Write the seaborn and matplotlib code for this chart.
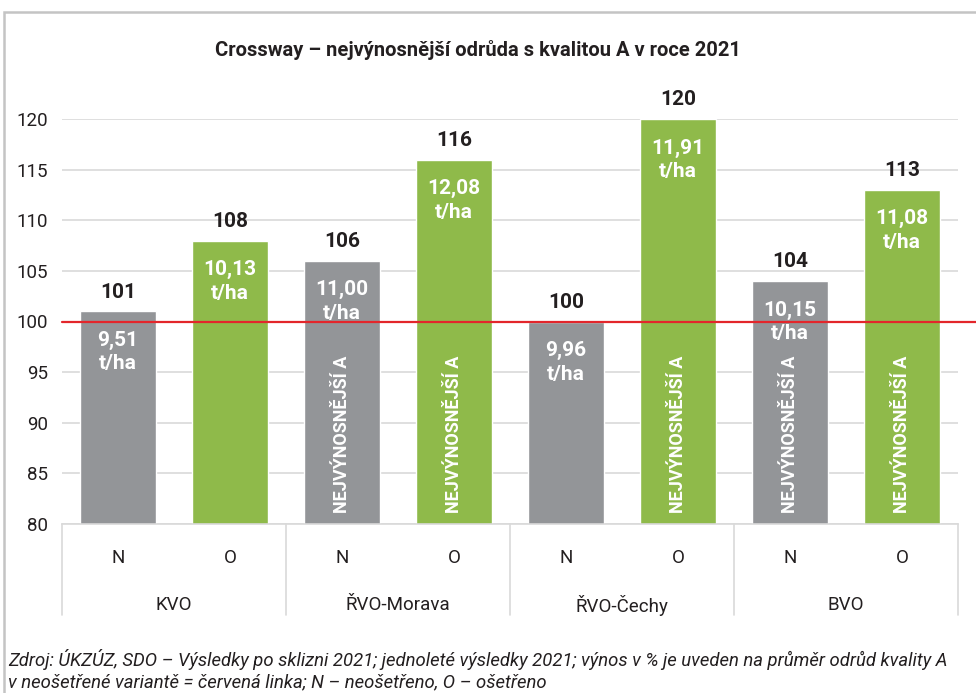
import matplotlib
matplotlib.use("Agg")
import matplotlib.pyplot as plt
import matplotlib.transforms as mtransforms
from matplotlib.patches import Rectangle
import seaborn as sns
import pandas as pd

# data
groups = ["KVO", "ŘVO-Morava", "ŘVO-Čechy", "BVO"]
variants = ["N", "O"]
rel_n = [101, 106, 100, 104]
rel_o = [108, 116, 120, 113]
yield_n = ["9,51", "11,00", "9,96", "10,15"]
yield_o = ["10,13", "12,08", "11,91", "11,08"]
best_n = [False, True, False, True]
best_o = [False, True, True, True]

GRAY = "#939598"
GREEN = "#8fba4a"
RED = "#e3262b"
INK = "#231f20"
FONT = ["Roboto", "DejaVu Sans"]

sns.set_theme(style="white")
plt.rcParams["font.family"] = FONT

rows = []
for i, g in enumerate(groups):
    rows.append(dict(slot=f"{g} N", group=g, variant="N", rel=rel_n[i], t=yield_n[i], best=best_n[i]))
    rows.append(dict(slot=f"{g} O", group=g, variant="O", rel=rel_o[i], t=yield_o[i], best=best_o[i]))
df = pd.DataFrame(rows)

fig = plt.figure(figsize=(9.76, 6.93), dpi=100)
ax = fig.add_axes([62 / 976, 1 - 524 / 693, 896 / 976, 405 / 693])

sns.barplot(data=df, x="slot", y="rel", hue="variant", dodge=False, width=0.67,
            palette={"N": GRAY, "O": GREEN}, order=list(df["slot"]), legend=False,
            saturation=1, ax=ax)

ax.set_ylim(80, 120)
ax.set_xlim(-0.5, len(df) - 0.5)
ax.set_yticks(range(80, 121, 5))
ax.yaxis.grid(True, color="#d9d9d9", linewidth=1.2)
ax.set_axisbelow(True)
ax.tick_params(axis="y", length=0, pad=10, labelsize=13.5, labelcolor=INK)
ax.tick_params(axis="x", length=0, labelbottom=False)
ax.set_xlabel("")
ax.set_ylabel("")
for s in ["top", "right", "left"]:
    ax.spines[s].set_visible(False)
ax.spines["bottom"].set_color("#d9d9d9")
ax.spines["bottom"].set_linewidth(1.2)

# reference line at 100
trans = mtransforms.blended_transform_factory(ax.transAxes, ax.transData)
ax.plot([0, 1.02], [100, 100], color=RED, lw=1.6, transform=trans, clip_on=False, zorder=5)

# labels on the bars
for i, r in df.iterrows():
    ax.annotate(str(r["rel"]), (i, r["rel"]), xytext=(0, 7), textcoords="offset points",
                ha="center", va="bottom", fontsize=15, fontweight="bold", color=INK)
    ax.annotate(f"{r['t']}\nt/ha", (i, r["rel"]), xytext=(0, -14), textcoords="offset points",
                ha="center", va="top", fontsize=15, fontweight="bold", color="white",
                linespacing=1.3, zorder=6)
    if r["best"]:
        ax.annotate("NEJVÝNOSNĚJŠÍ A", (i, 80), xytext=(0, 8), textcoords="offset points",
                    ha="center", va="bottom", rotation=90, fontsize=13, fontweight="bold",
                    color="white", zorder=6)

# two-level category axis
xt = mtransforms.blended_transform_factory(ax.transData, ax.transAxes)
for i, r in df.iterrows():
    ax.text(i, -0.084, r["variant"], transform=xt, ha="center", va="center",
            fontsize=13.5, color=INK)
for k, g in enumerate(groups):
    ax.text(2 * k + 0.5, -0.2, g, transform=xt, ha="center", va="center",
            fontsize=13.5, color=INK)
for b in range(len(groups) + 1):
    ax.plot([2 * b - 0.5, 2 * b - 0.5], [0, -0.225], color="#d9d9d9", lw=1.2,
            transform=xt, clip_on=False)

fig.text(0.49, 1 - 50 / 693, "Crossway – nejvýnosnější odrůda s kvalitou A v roce 2021",
         ha="center", va="center", fontsize=14.5, fontweight="bold", color=INK)
fig.text(8 / 976, 1 - 660 / 693,
         "Zdroj: ÚKZÚZ, SDO – Výsledky po sklizni 2021; jednoleté výsledky 2021; výnos v % je uveden na průměr odrůd kvality A",
         ha="left", va="center", fontsize=13.3, style="italic", color=INK)
fig.text(8 / 976, 1 - 682 / 693,
         "v neošetřené variantě = červená linka; N – neošetřeno, O – ošetřeno",
         ha="left", va="center", fontsize=13.3, style="italic", color=INK)

fig.add_artist(Rectangle((4 / 976, -0.1), 1.2, 1.1 - 12 / 693, transform=fig.transFigure,
                         fill=False, edgecolor="#c4c4c4", lw=1.8, clip_on=False))

fig.savefig("out.png", dpi=100)
